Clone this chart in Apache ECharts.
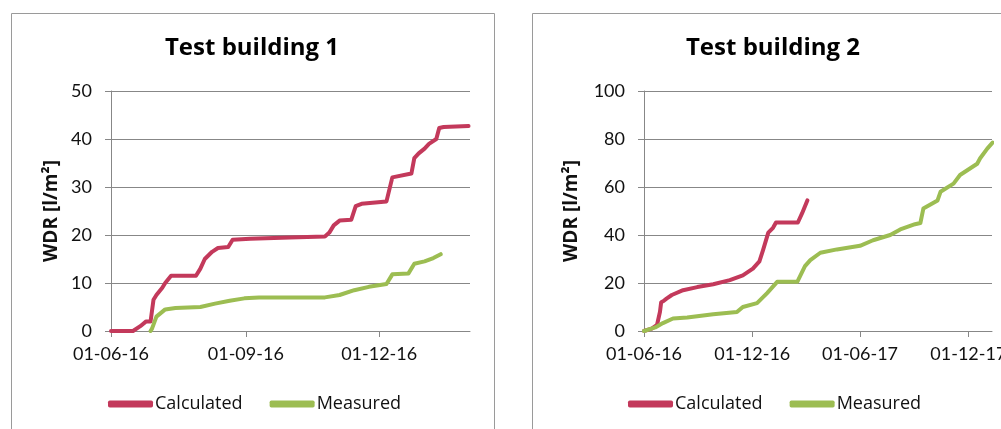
<!DOCTYPE html>
<html><head><meta charset="utf-8">
<script src="https://cdn.jsdelivr.net/npm/echarts@6/dist/echarts.min.js"></script>
<style>html,body{margin:0;padding:0;background:#fff;overflow:hidden;width:1001px;height:429px}#c{width:1100px;height:429px}</style>
</head><body><div id="c"></div>
<script>
// ---- data ----
const seriesNames = ['Calculated', 'Measured'];
const chartTitles = ['Test building 1', 'Test building 2'];
const yAxisTitle = 'WDR [l/m²]';
const xTickDates1 = ['2016-06-01', '2016-09-01', '2016-12-01'];
const xTickDates2 = ['2016-06-01', '2016-12-01', '2017-06-01', '2017-12-01'];
const xRange1 = ['2016-06-01', '2017-02-01'];
const xRange2 = ['2016-06-01', '2018-01-10'];
const yMax1 = 50, yStep1 = 10;
const yMax2 = 100, yStep2 = 20;

const calc1Dates = ['2016-06-01','2016-06-16','2016-06-21','2016-06-25','2016-06-28','2016-06-30','2016-07-02','2016-07-06','2016-07-08','2016-07-12','2016-07-29','2016-08-01','2016-08-04','2016-08-09','2016-08-13','2016-08-20','2016-08-23','2016-09-04','2016-10-01','2016-10-25','2016-10-28','2016-10-31','2016-11-04','2016-11-12','2016-11-15','2016-11-19','2016-12-06','2016-12-10','2016-12-23','2016-12-25','2016-12-28','2017-01-01','2017-01-04','2017-01-09','2017-01-11','2017-01-14','2017-01-31'];
const calc1Values = [0,0,1,2,2,6.5,7.5,9,10,11.5,11.5,13,15,16.5,17.3,17.5,19,19.2,19.5,19.7,20.5,22,23,23.2,26,26.5,27,32,32.8,36,37,38,39,40,42.3,42.5,42.7];

const meas1Dates = ['2016-06-28','2016-06-29','2016-07-02','2016-07-08','2016-07-15','2016-08-01','2016-08-11','2016-08-21','2016-08-31','2016-09-10','2016-10-08','2016-10-25','2016-11-04','2016-11-14','2016-11-24','2016-12-06','2016-12-10','2016-12-21','2016-12-25','2017-01-01','2017-01-07','2017-01-12'];
const meas1Values = [0,0.5,3,4.5,4.8,5.0,5.7,6.3,6.8,7.0,7.0,7.0,7.5,8.5,9.2,9.8,11.8,12,14,14.5,15.2,16];

const calc2Dates = ['2016-06-01','2016-06-14','2016-06-23','2016-06-28','2016-06-30','2016-07-04','2016-07-09','2016-07-18','2016-08-06','2016-08-30','2016-09-26','2016-10-24','2016-11-15','2016-12-02','2016-12-13','2016-12-19','2016-12-28','2017-01-05','2017-01-10','2017-02-16','2017-02-23','2017-03-04'];
const calc2Values = [0,1,2.5,8,12,12.5,13.5,15,17,18.3,19.5,21.2,23.2,26,29,33.6,41,43,45.2,45.2,49,54.4];

const meas2Dates = ['2016-06-01','2016-06-20','2016-07-03','2016-07-20','2016-08-13','2016-09-26','2016-11-05','2016-11-15','2016-12-09','2016-12-26','2017-01-12','2017-02-15','2017-02-28','2017-03-09','2017-03-26','2017-04-23','2017-06-01','2017-06-23','2017-07-22','2017-08-08','2017-09-02','2017-09-11','2017-09-16','2017-10-10','2017-10-15','2017-11-06','2017-11-17','2017-12-16','2017-12-21','2018-01-02','2018-01-11'];
const meas2Values = [0,1.5,3.3,5.2,5.6,7,7.9,10,11.6,15.8,20.5,20.5,27,29.5,32.6,34,35.5,37.8,40,42.3,44.5,45,51,54.4,58,61.4,65,69.7,72,76,78.5];

// ---- helpers ----
function ts(s) { const p = s.split('-').map(Number); return new Date(p[0], p[1] - 1, p[2]).getTime(); }
function pair(ds, vs) { return ds.map((d, i) => [ts(d), vs[i]]); }
function pad(n) { return (n < 10 ? '0' : '') + n; }
function fmt(v) { const d = new Date(v); return pad(d.getDate()) + '-' + pad(d.getMonth() + 1) + '-' + String(d.getFullYear()).slice(2); }

const NUMFONT = 'Lato, "Open Sans", sans-serif';
const TXTFONT = '"Open Sans", Lato, sans-serif';
const RED = '#C3395B', GREEN = '#9CBD52';
const AX = '#878787';

function xAxisDef(idx, range, ticks) {
  const vals = ticks.map(ts);
  return {
    type: 'value', gridIndex: idx, min: ts(range[0]), max: ts(range[1]), scale: true,
    axisLine: { show: true, onZero: false, lineStyle: { color: AX, width: 1 } },
    axisTick: { show: true, customValues: vals, length: 6, inside: false, lineStyle: { color: AX } },
    axisLabel: { customValues: vals, formatter: fmt, fontFamily: NUMFONT, fontSize: 18, color: '#111', margin: 14, hideOverlap: false },
    splitLine: { show: false }, minorTick: { show: false }
  };
}
function yAxisDef(idx, max, step, gap) {
  return {
    type: 'value', gridIndex: idx, min: 0, max: max, interval: step,
    name: yAxisTitle, nameLocation: 'middle', nameRotate: 90, nameGap: gap,
    nameTextStyle: { fontFamily: TXTFONT, fontSize: 19, fontWeight: 'bold', color: '#111' },
    axisLine: { show: true, lineStyle: { color: AX, width: 1 } },
    axisTick: { show: true, length: 6, lineStyle: { color: AX } },
    axisLabel: { fontFamily: NUMFONT, fontSize: 18, color: '#111', margin: 19 },
    splitLine: { show: true, lineStyle: { color: AX, width: 1 } }
  };
}
function lineSeries(name, idx, data, color) {
  return { type: 'line', name: name, xAxisIndex: idx, yAxisIndex: idx, data: data, showSymbol: false, symbol: 'none',
    lineStyle: { color: color, width: 4, join: 'round', cap: 'round' }, itemStyle: { color: color }, z: 3 };
}
function legendDef(left) {
  return { left: left, top: 395, padding: 0, data: seriesNames, icon: 'roundRect', itemWidth: 45, itemHeight: 7, itemGap: 27,
    textStyle: { fontFamily: TXTFONT, fontSize: 18, color: '#111', padding: [0, 0, 0, -3] }, selectedMode: false };
}

const chart = echarts.init(document.getElementById('c'), null, { renderer: 'canvas' });
chart.setOption({
  animation: false,
  backgroundColor: '#fff',
  graphic: [
    { type: 'rect', shape: { x: 11.5, y: 13.5, width: 483, height: 440 }, style: { fill: 'none', stroke: '#9a9a9a', lineWidth: 1 }, z: -1 },
    { type: 'rect', shape: { x: 532.5, y: 13.5, width: 483, height: 440 }, style: { fill: 'none', stroke: '#9a9a9a', lineWidth: 1 }, z: -1 },
    { type: 'text', x: 252, y: 48, style: { text: chartTitles[0], font: 'bold 24px ' + TXTFONT, fill: '#000', align: 'center', verticalAlign: 'middle' } },
    { type: 'text', x: 773, y: 48, style: { text: chartTitles[1], font: 'bold 24px ' + TXTFONT, fill: '#000', align: 'center', verticalAlign: 'middle' } }
  ],
  grid: [
    { left: 111, top: 91, width: 359, height: 240 },
    { left: 644, top: 91, width: 348, height: 240 }
  ],
  xAxis: [xAxisDef(0, xRange1, xTickDates1), xAxisDef(1, xRange2, xTickDates2)],
  yAxis: [yAxisDef(0, yMax1, yStep1, 50), yAxisDef(1, yMax2, yStep2, 63)],
  legend: [legendDef(108), legendDef(628)],
  series: [
    lineSeries(seriesNames[0], 0, pair(calc1Dates, calc1Values), RED),
    lineSeries(seriesNames[1], 0, pair(meas1Dates, meas1Values), GREEN),
    lineSeries(seriesNames[0], 1, pair(calc2Dates, calc2Values), RED),
    lineSeries(seriesNames[1], 1, pair(meas2Dates, meas2Values), GREEN)
  ]
});
</script></body></html>
